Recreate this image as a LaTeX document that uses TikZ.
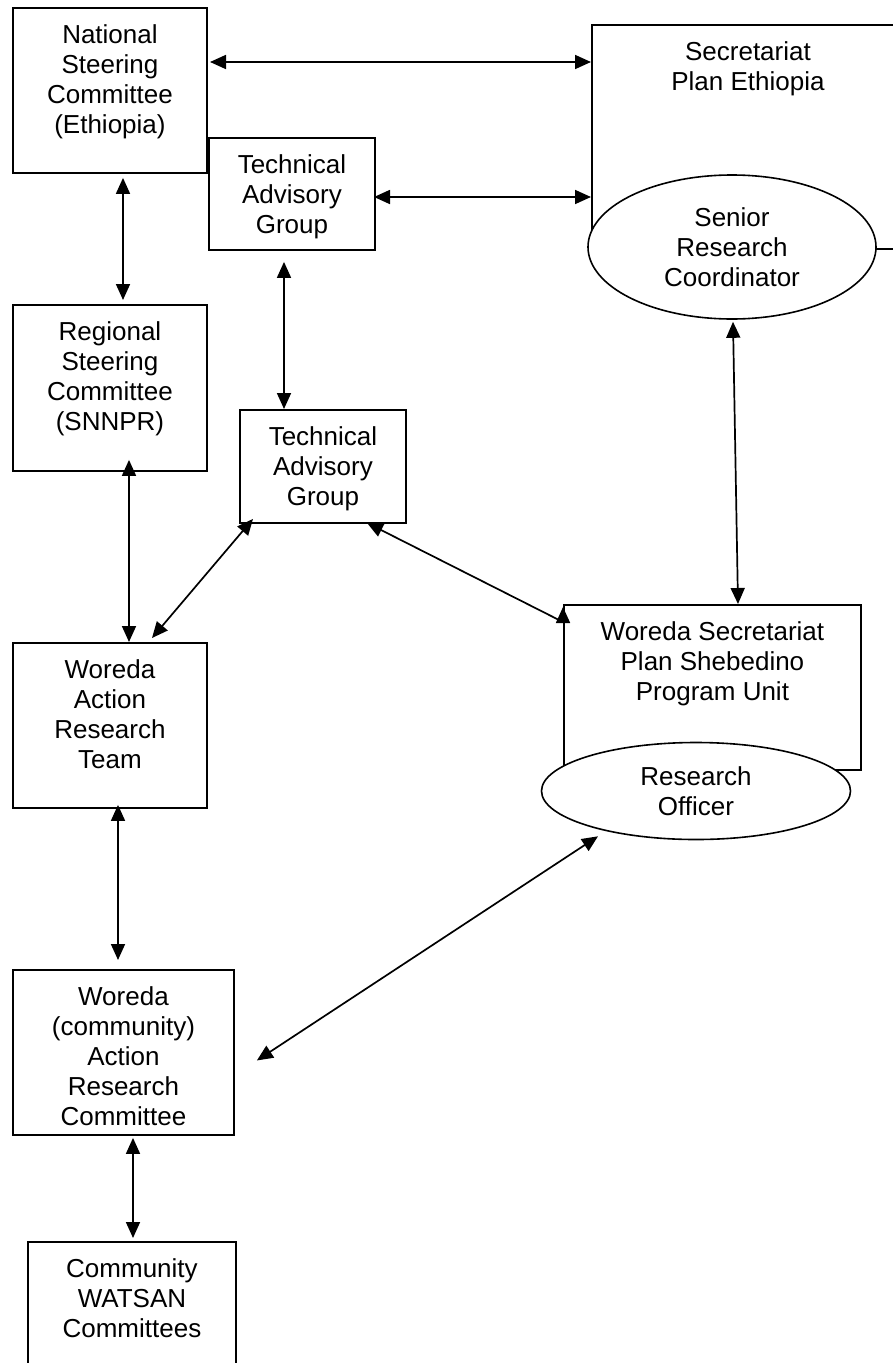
\documentclass[tikz,border=0pt]{standalone}
\usepackage{fontspec}
\setmainfont{Liberation Sans}
\usepackage{tikz}
\usetikzlibrary{positioning,calc,shapes.geometric,arrows.meta}

\begin{document}
\begin{tikzpicture}[x=1pt, y=-1pt,
    every node/.style = {font=\fontsize{26}{30}\selectfont},
    box/.style = {draw, line width=1.9pt, fill=white, inner sep=0pt, anchor=north west},
    boxtext/.style = {align=center, inner sep=0pt},
    oval/.style = {draw, ellipse, line width=1.6pt, fill=white, inner sep=0pt, align=center},
    link/.style = {{Triangle[length=16pt,width=14pt]}-{Triangle[length=16pt,width=14pt]}, line width=1.7pt}]
    \useasboundingbox (0,0) rectangle (893,1363);
    \clip (0,0) rectangle (893,1363);

    % left column
    \node[box, minimum width=194pt, minimum height=165pt] (nsc) at (12,7) {};
    \node[boxtext, below=17pt of nsc.north] (nscText) {National\\Steering\\Committee\\(Ethiopia)};
    \node[box, minimum width=194pt, minimum height=166pt] (rsc) at (12,304) {};
    \node[boxtext, below=17pt of rsc.north] (rscText) {Regional\\Steering\\Committee\\(SNNPR)};
    \node[box, minimum width=194pt, minimum height=165pt] (wart) at (12,642) {};
    \node[boxtext, below=17pt of wart.north] (wartText) {Woreda\\Action\\Research\\Team};
    \node[box, minimum width=221pt, minimum height=165pt] (wcarc) at (12,969) {};
    \node[boxtext, below=17pt of wcarc.north] (wcarcText) {Woreda\\(community)\\Action\\Research\\Committee};
    \node[box, minimum width=208pt, minimum height=150pt] (cwc) at (27,1241) {};
    \node[boxtext, below=17pt of cwc.north] (cwcText) {Community\\WATSAN\\Committees};

    % advisory groups
    \node[box, minimum width=166pt, minimum height=112pt] (tagTop) at (208,137) {};
    \node[boxtext, below=17pt of tagTop.north] (tagTopText) {Technical\\Advisory\\Group};
    \node[box, minimum width=166pt, minimum height=113pt] (tagMid) at (239,409) {};
    \node[boxtext, below=17pt of tagMid.north] (tagMidText) {Technical\\Advisory\\Group};

    % secretariats
    \node[box, minimum width=312pt, minimum height=224pt] (sec) at (591,24) {};
    \node[boxtext, below=17pt of sec.north] (secText) {Secretariat\\Plan Ethiopia};
    \node[oval, minimum width=288pt, minimum height=144pt] (src) at (732,247) {Senior\\Research\\Coordinator};
    \node[box, minimum width=297pt, minimum height=165pt] (worsec) at (563,604) {};
    \node[boxtext, below=17pt of worsec.north] (worsecText) {Woreda Secretariat\\Plan Shebedino\\Program Unit};
    \node[oval, minimum width=309pt, minimum height=97pt] (ro) at (696,791) {Research\\Officer};

    \coordinate (nscIn) at (210,62);
    \coordinate (tagOut) at (374,197);
    \coordinate (tagDown) at ($(tagTop.south west)+(76,11)$);

    \draw[link] (nscIn) -- (nscIn -| sec.west);
    \draw[link] (tagOut) -- (tagOut -| sec.west);
    \draw[link] ($(nsc.south west)+(111,4)$) -- ($(rsc.north west)+(111,-4)$);
    \draw[link] (tagDown) -- (tagDown |- tagMid.north);
    \draw[link] ($(rsc.south west)+(117,-12)$) -- ($(wart.north west)+(117,0)$);
    \draw[link] ($(tagMid.south west)+(14,-5)$) -- ($(wart.north west)+(140,-4)$);
    \draw[link] ($(tagMid.south west)+(128,-1)$) -- ($(worsec.north west)+(0,18)$) -- ($(worsec.north west)+(0,3)$);
    \draw[link] ($(src.south)+(1,2)$) -- ($(worsec.north west)+(175,0)$);
    \draw[link] ($(wart.south west)+(106,-4)$) -- ($(wcarc.north west)+(106,-9)$);
    \draw[link] ($(ro.south)+(-98,-4)$) -- ($(wcarc.east)+(22,8)$);
    \draw[link] ($(wcarc.south west)+(121,2)$) -- ($(cwc.north west)+(106,-3)$);
\end{tikzpicture}
\end{document}
